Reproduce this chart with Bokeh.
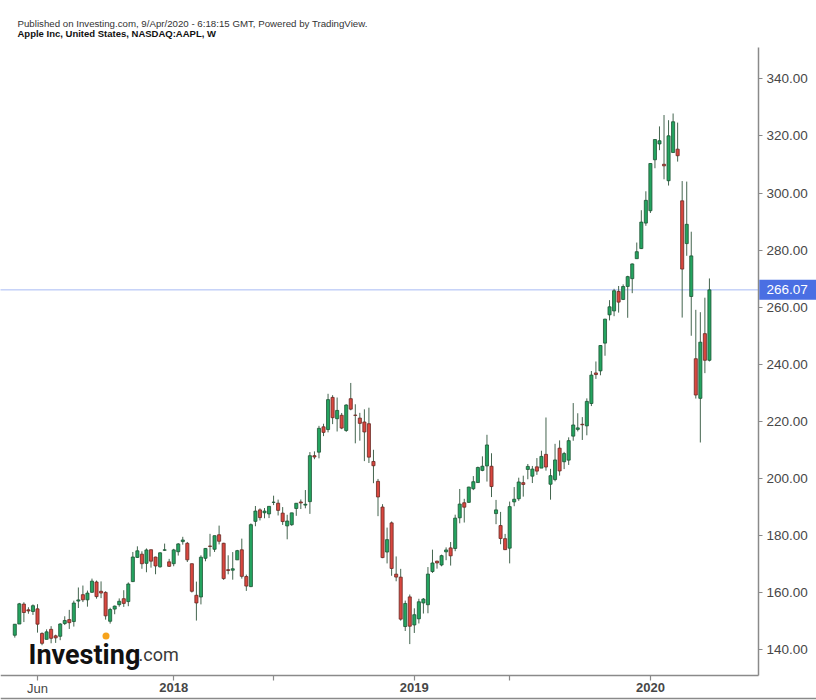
import pandas as pd
from bokeh.plotting import figure
from bokeh.models import (ColumnDataSource, Range1d, FixedTicker, PrintfTickFormatter, Label)
from bokeh.embed import file_html
from bokeh.resources import INLINE

# ---- weekly AAPL bars (week starting 2017-05-01) ----
start_week = "2017-05-01"
opens = [145.10, 149.03, 156.01, 154.00, 153.42, 154.34, 145.74, 143.66, 147.17, 144.88,
         144.73, 149.20, 150.58, 149.90, 157.06, 159.32, 157.50, 160.14, 163.75, 160.50,
         160.11, 149.99, 154.26, 155.81, 157.90, 156.89, 163.89, 172.37, 173.50, 170.29,
         175.05, 172.48, 169.06, 174.87, 170.80, 170.16, 174.35, 177.90, 177.30, 170.16,
         159.10, 158.50, 172.05, 176.35, 175.21, 180.29, 177.32, 168.07, 167.88, 171.50,
         175.03, 165.67, 162.13, 184.99, 189.01, 188.00, 187.60, 191.64, 191.35, 187.88,
         183.40, 183.82, 189.50, 191.78, 190.68, 191.90, 208.00, 209.22, 218.10, 217.15,
         228.41, 220.95, 222.15, 216.82, 227.95, 222.21, 221.16, 219.79, 219.19, 205.97,
         199.00, 190.00, 174.24, 184.46, 166.50, 165.45, 148.15, 158.53, 148.70, 150.85,
         156.41, 155.79, 167.41, 171.05, 169.71, 174.32, 175.69, 175.49, 186.23, 191.51,
         191.64, 196.42, 198.58, 202.83, 204.40, 204.29, 187.71, 183.52, 178.92, 175.60,
         191.81, 192.90, 198.54, 203.17, 200.81, 204.09, 203.65, 208.46, 197.99, 199.62,
         210.62, 205.86, 206.43, 214.84, 217.20, 219.00, 218.43, 226.27, 236.97, 237.70,
         247.42, 257.33, 258.69, 265.54, 262.71, 267.27, 270.00, 277.00, 280.53, 289.46,
         293.79, 311.64, 317.19, 310.06, 304.30, 314.18, 315.36, 297.26, 282.28, 263.75,
         241.95, 228.08, 250.74, 241.41]
highs = [148.98, 156.42, 156.65, 154.90, 155.90, 155.98, 146.09, 147.16, 148.28, 145.30,
         149.33, 151.74, 153.99, 157.21, 161.83, 162.51, 160.74, 164.94, 164.25, 163.96,
         160.50, 154.72, 155.49, 158.00, 160.87, 163.60, 174.26, 176.24, 174.50, 175.50,
         175.08, 172.62, 174.17, 177.20, 171.85, 175.37, 177.36, 179.58, 177.78, 170.16,
         163.88, 173.09, 175.65, 180.62, 180.00, 183.50, 177.47, 173.10, 174.23, 175.00,
         178.94, 166.33, 184.25, 190.37, 189.53, 189.65, 190.26, 193.98, 192.61, 189.99,
         187.30, 188.00, 191.41, 192.65, 195.96, 209.25, 209.50, 218.44, 219.18, 229.67,
         229.18, 228.36, 222.95, 226.00, 233.47, 226.00, 222.99, 224.23, 224.80, 210.06,
         199.85, 191.00, 182.80, 184.94, 172.70, 168.35, 157.23, 159.36, 154.53, 157.88,
         158.13, 168.98, 175.08, 171.21, 173.32, 175.87, 177.75, 187.33, 196.33, 192.88,
         197.10, 200.85, 204.15, 207.76, 215.31, 208.84, 192.50, 188.30, 180.59, 191.92,
         197.00, 200.29, 200.99, 205.08, 204.39, 207.16, 209.73, 221.37, 203.38, 212.14,
         213.35, 209.32, 214.42, 226.42, 222.85, 221.50, 228.06, 237.64, 240.99, 246.73,
         255.93, 262.47, 266.44, 267.43, 268.00, 271.00, 275.30, 282.65, 293.97, 300.60,
         310.43, 318.74, 323.33, 327.31, 325.50, 327.85, 324.65, 304.18, 304.00, 286.44,
         259.08, 258.25, 263.33, 270.07]
lows = [144.27, 149.03, 149.71, 152.63, 152.22, 146.02, 141.60, 143.66, 142.28, 142.41,
        143.37, 148.67, 147.30, 148.13, 154.63, 156.72, 155.11, 159.93, 157.91, 158.09,
        150.56, 149.16, 152.46, 155.10, 155.02, 155.27, 163.72, 172.18, 168.38, 167.16,
        168.78, 166.46, 168.79, 174.65, 169.00, 169.26, 173.00, 176.82, 170.75, 160.06,
        150.24, 155.90, 171.01, 172.66, 174.27, 176.92, 164.50, 166.44, 164.56, 171.48,
        164.94, 160.63, 161.96, 183.28, 185.30, 186.07, 186.14, 190.68, 187.05, 183.74,
        178.70, 183.42, 186.92, 189.31, 189.56, 187.61, 206.76, 207.07, 214.84, 216.16,
        219.05, 216.47, 217.27, 216.32, 223.89, 212.32, 213.25, 206.09, 205.43, 198.36,
        186.81, 172.10, 170.26, 165.93, 164.00, 150.20, 146.59, 142.00, 145.90, 149.22,
        152.70, 152.80, 166.93, 168.42, 169.25, 171.38, 169.50, 174.54, 184.30, 184.58,
        191.52, 195.93, 198.56, 202.54, 198.93, 193.50, 184.00, 176.98, 174.99, 170.27,
        190.30, 192.17, 193.65, 199.74, 198.41, 201.27, 203.65, 202.75, 192.58, 199.01,
        201.00, 203.30, 204.75, 213.22, 216.50, 213.50, 215.13, 225.37, 234.88, 236.15,
        243.00, 255.37, 256.85, 258.10, 262.50, 256.29, 264.91, 276.98, 280.37, 288.50,
        293.00, 308.67, 315.00, 304.80, 302.60, 314.17, 311.00, 256.37, 278.00, 250.00,
        228.00, 212.61, 236.90, 241.00]
closes = [148.96, 156.10, 153.06, 153.61, 155.45, 148.98, 142.27, 146.28, 144.02, 144.18,
          149.04, 150.27, 149.50, 156.39, 157.48, 157.50, 159.86, 164.05, 158.63, 159.88,
          151.89, 154.12, 155.30, 156.99, 156.25, 163.05, 172.50, 174.67, 170.15, 174.97,
          171.05, 169.37, 173.97, 175.01, 169.23, 175.00, 177.09, 178.46, 171.51, 160.50,
          156.41, 172.43, 175.50, 176.21, 179.98, 178.02, 164.94, 167.78, 168.38, 174.73,
          165.72, 162.32, 183.83, 188.59, 186.31, 188.58, 190.24, 191.70, 188.84, 184.92,
          185.11, 187.97, 191.33, 191.44, 190.98, 207.99, 207.53, 217.58, 216.16, 227.63,
          221.30, 223.84, 217.66, 225.74, 224.29, 222.11, 219.31, 216.30, 207.48, 204.47,
          193.53, 172.29, 178.58, 168.49, 165.48, 150.73, 156.23, 148.26, 152.29, 156.82,
          157.76, 166.52, 170.41, 170.42, 172.97, 174.97, 172.91, 186.12, 191.05, 189.95,
          197.00, 198.87, 203.86, 204.30, 211.75, 197.18, 189.00, 178.97, 175.07, 190.15,
          192.74, 198.78, 197.92, 204.23, 203.30, 202.59, 207.74, 204.02, 200.99, 206.50,
          202.64, 208.74, 213.26, 218.75, 217.73, 218.82, 227.01, 236.21, 236.41, 246.58,
          255.82, 260.14, 265.76, 261.78, 267.25, 270.71, 275.15, 279.44, 289.80, 297.43,
          310.33, 318.73, 318.31, 309.51, 320.03, 324.95, 313.05, 273.36, 289.03, 277.97,
          229.24, 247.74, 241.41, 266.07]

last_price = 266.07
tick_dates = ["2017-06-05", "2018-01-01", "2018-06-04", "2019-01-07", "2019-06-03", "2020-01-06"]
tick_labels = ["Jun", "2018", "", "2019", "", "2020"]
price_ticks = [140, 160, 180, 200, 220, 240, 260, 280, 300, 320, 340]

title_line1 = "Published on Investing.com, 9/Apr/2020 - 6:18:15 GMT, Powered by TradingView."
title_line2 = "Apple Inc, United States, NASDAQ:AAPL, W"

# ---- derived ----
dates = pd.date_range(start_week, periods=len(closes), freq="W-MON")
idx = list(range(len(closes)))
up = [c >= o for o, c in zip(opens, closes)]
UP_FILL, UP_LINE = "#24a460", "#1c5434"
DN_FILL, DN_LINE = "#d9473f", "#682823"
WICK = "#44654f"
AXIS = "#8a8a8a"
TXT = "#474747"

src = ColumnDataSource(dict(
    x=idx, open=opens, high=highs, low=lows, close=closes,
    top=[max(o, c) for o, c in zip(opens, closes)],
    bottom=[min(o, c) for o, c in zip(opens, closes)],
    fill=[UP_FILL if u else DN_FILL for u in up],
    line=[UP_LINE if u else DN_LINE for u in up],
))

# pixel -> data helpers (layout only)
PX0, PXW = 14.3, 4.54          # x of first bar, px per bar
PY140, PYU = 649.3, 2.855      # y of 140.00, px per dollar
def dx(px):
    return (px - PX0) / PXW
def dy(py):
    return 140 + (PY140 - py) / PYU

W, H = 816, 700
AX_X, AX_TOP, AX_Y = 758, 47, 675

p = figure(width=W, height=H, output_backend="svg", toolbar_location=None,
           title=None, y_axis_location="right",
           x_range=Range1d(dx(0), dx(W)), y_range=Range1d(dy(H), dy(0)),
           min_border=0, min_border_left=0, min_border_right=0,
           min_border_top=0, min_border_bottom=0)
p.outline_line_color = None
p.grid.visible = False
p.background_fill_color = "white"
p.border_fill_color = "white"

# last price dotted line
p.segment(x0=[dx(0)], y0=[last_price], x1=[dx(AX_X)], y1=[last_price],
          line_color="#4f76ea", line_dash="1 1", line_width=1)

# candles
p.segment(x0="x", y0="high", x1="x", y1="low", source=src, line_color=WICK, line_width=1)
p.vbar(x="x", top="top", bottom="bottom", width=0.68, source=src,
       fill_color="fill", line_color="line", line_width=0.8)

# axis lines and bottom border
p.segment(x0=[dx(0)], y0=[dy(AX_Y)], x1=[dx(AX_X)], y1=[dy(AX_Y)], line_color=AXIS, line_width=1.5)
p.segment(x0=[dx(AX_X)], y0=[dy(AX_TOP)], x1=[dx(AX_X)], y1=[dy(AX_Y)], line_color=AXIS, line_width=1.5)
p.segment(x0=[dx(0)], y0=[dy(698)], x1=[dx(W)], y1=[dy(698)], line_color=AXIS, line_width=1.5)

# axes (placed at fixed locations so that the frame fills the canvas)
tick_idx = [int(dates.get_loc(pd.Timestamp(d))) for d in tick_dates]
xa = p.xaxis[0]
xa.fixed_location = dy(AX_Y)
xa.ticker = FixedTicker(ticks=tick_idx)
xa.major_label_overrides = {i: (lab if lab != "Jun" else "") for i, lab in zip(tick_idx, tick_labels)}
xa.axis_line_color = None
xa.major_tick_line_color = AXIS
xa.major_tick_line_width = 1.2
xa.major_tick_out = 5
xa.major_tick_in = 0
xa.minor_tick_line_color = None
xa.major_label_text_font = "Liberation Sans"
xa.major_label_text_font_size = "13px"
xa.major_label_text_font_style = "bold"
xa.major_label_text_color = TXT
xa.major_label_standoff = 2

ya = p.yaxis[0]
ya.fixed_location = dx(AX_X)
ya.ticker = FixedTicker(ticks=price_ticks)
ya.formatter = PrintfTickFormatter(format="%.2f")
ya.axis_line_color = None
ya.major_tick_line_color = AXIS
ya.major_tick_line_width = 1.2
ya.major_tick_out = 4
ya.major_tick_in = 0
ya.minor_tick_line_color = None
ya.major_label_text_font = "Liberation Sans"
ya.major_label_text_font_size = "13.5px"
ya.major_label_text_color = TXT
ya.major_label_standoff = 4

for i, lab in zip(tick_idx, tick_labels):
    if lab == "Jun":
        p.add_layout(Label(x=i, y=dy(688), text=lab, text_align="center", text_baseline="middle",
                           text_font="Liberation Sans", text_font_size="13px",
                           text_color=TXT))

# last price label box
p.quad(left=[dx(AX_X + 0.8)], right=[dx(W)], top=[last_price + 10 / PYU],
       bottom=[last_price - 10 / PYU], fill_color="#4a6fe3", line_color=None)
p.add_layout(Label(x=dx(766), y=last_price, text=f"{last_price:.2f}", text_align="left",
                   text_baseline="middle", text_font="Liberation Sans", text_font_size="13.5px",
                   text_color="white"))

# header texts
p.add_layout(Label(x=dx(17), y=dy(22.7), text=title_line1, text_baseline="middle",
                   text_font="Liberation Sans", text_font_size="9.7px", text_color="#333333"))
p.add_layout(Label(x=dx(17), y=dy(32.5), text=title_line2, text_baseline="middle",
                   text_font="Liberation Sans", text_font_size="9.5px", text_font_style="bold",
                   text_color="#111111"))

# Investing.com logo
p.add_layout(Label(x=dx(28), y=dy(654.3), text="Investing", text_baseline="alphabetic",
                   text_font="Roboto", text_font_size="27px", text_font_style="bold",
                   text_color="#111111"))
p.add_layout(Label(x=dx(138), y=dy(654.3), text=".com", text_baseline="alphabetic",
                   text_font="Roboto", text_font_size="18px", text_color="#3a3a3a"))
p.scatter(x=[dx(105.5)], y=[dy(635.5)], size=7, marker="circle",
          fill_color="#f6a31c", line_color=None)

open("out.html", "w").write(file_html(p, INLINE))
